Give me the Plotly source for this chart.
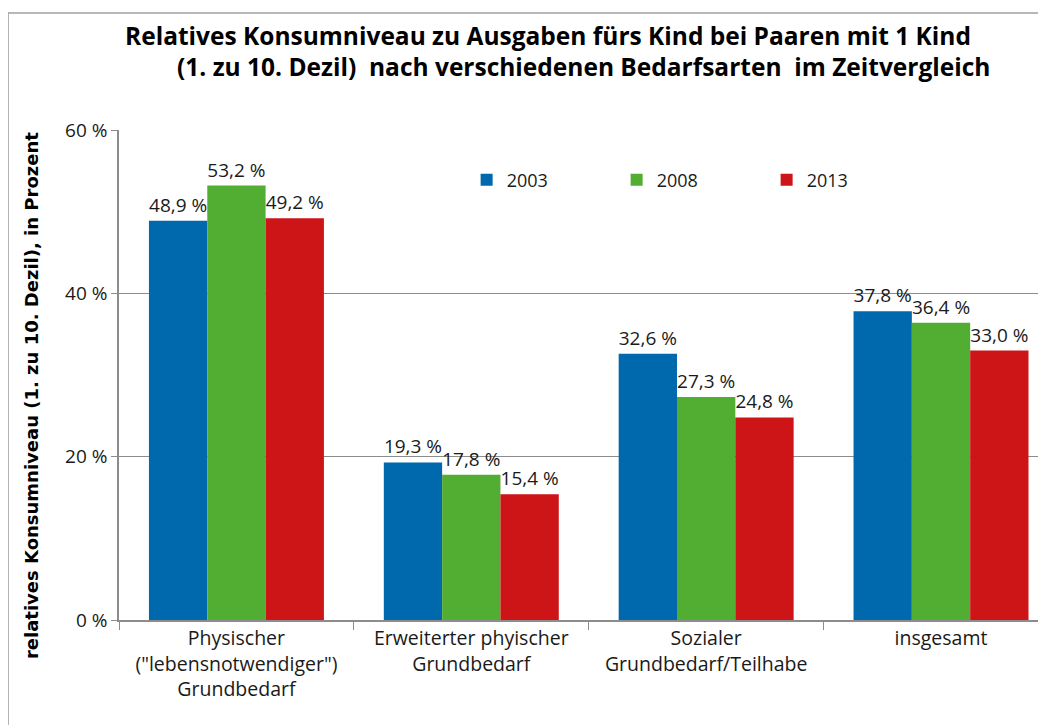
# Relatives Konsumniveau: Balken je Bedarfsart und Jahr
import plotly.graph_objects as go

categories = [
    'Physischer<br>("lebensnotwendiger")<br>Grundbedarf',
    'Erweiterter phyischer<br>Grundbedarf',
    'Sozialer<br>Grundbedarf/Teilhabe',
    'insgesamt',
]
years = ['2003', '2008', '2013']
values_2003 = [48.9, 19.3, 32.6, 37.8]
values_2008 = [53.2, 17.8, 27.3, 36.4]
values_2013 = [49.2, 15.4, 24.8, 33.0]
y_ticks = [0, 20, 40, 60]
y_ticktext = ['0 %', '20 %', '40 %', '60 %']

colors = ['#0068AD', '#52AD33', '#CD1417']
font = 'Open Sans'

fig = go.Figure()
for name, vals, col in zip(years, [values_2003, values_2008, values_2013], colors):
    labels = [f'{v:.1f} %'.replace('.', ',') for v in vals]
    fig.add_trace(go.Bar(
        x=categories, y=vals, name=name, marker_color=col, marker_line_width=0,
        text=labels, textposition='outside', cliponaxis=False,
        textfont=dict(family=font, size=19, color='#1a1a1a'),
    ))

fig.update_layout(
    width=1038, height=717,
    margin=dict(l=111, r=0, t=122, b=105),
    paper_bgcolor='white', plot_bgcolor='white',
    barmode='group', bargap=0.255, bargroupgap=0,
    font=dict(family=font, color='#1a1a1a'),
    legend=dict(
        orientation='h', x=0.375, y=0.898, yanchor='middle', xanchor='left',
        font=dict(family=font, size=18), entrywidth=105, entrywidthmode='pixels',
        bgcolor='rgba(0,0,0,0)',
    ),
    showlegend=True,
)

fig.update_xaxes(
    range=[-0.5, 3.447],
    showline=True, linecolor='#8c8c8c', linewidth=1.5,
    ticks='outside', tickson='boundaries', ticklen=8, tickcolor='#8c8c8c',
    tickfont=dict(family=font, size=19.5),
    showgrid=False,
)
fig.update_yaxes(
    range=[0, 60], tickvals=y_ticks, ticktext=y_ticktext,
    showline=True, linecolor='#8c8c8c', linewidth=1.5,
    ticks='outside', ticklen=6, tickcolor='#8c8c8c',
    tickfont=dict(family=font, size=19),
    showgrid=True, gridcolor='#8c8c8c', gridwidth=1.2,
    zeroline=False,
)

# Titel in zwei Zeilen, wie im Original leicht versetzt
fig.add_annotation(
    text='Relatives Konsumniveau zu Ausgaben fürs Kind bei Paaren mit 1 Kind',
    xref='paper', yref='paper', x=0.463, y=1.192, xanchor='center', yanchor='middle',
    showarrow=False, font=dict(family=font, size=24.5, color='black', weight='bold'),
)
fig.add_annotation(
    text='(1. zu 10. Dezil)  nach verschiedenen Bedarfsarten  im Zeitvergleich',
    xref='paper', yref='paper', x=0.5016, y=1.129, xanchor='center', yanchor='middle',
    showarrow=False, font=dict(family=font, size=24.5, color='black', weight='bold'),
)
# y-Achsentitel
fig.add_annotation(
    text='relatives Konsumniveau (1. zu 10. Dezil), in Prozent',
    xref='paper', yref='paper', x=-0.0949, y=0.457, xanchor='center', yanchor='middle',
    textangle=-90, showarrow=False,
    font=dict(family='DejaVu Sans', size=18, color='black', weight='bold'),
)
# Rahmen um das Diagramm
fig.add_shape(
    type='rect', xref='paper', yref='paper', x0=-0.1197, y0=-0.4, x1=1.05, y1=1.239,
    line=dict(color='#a0a0a0', width=1.5), layer='below',
)

fig.write_html("out.html")
